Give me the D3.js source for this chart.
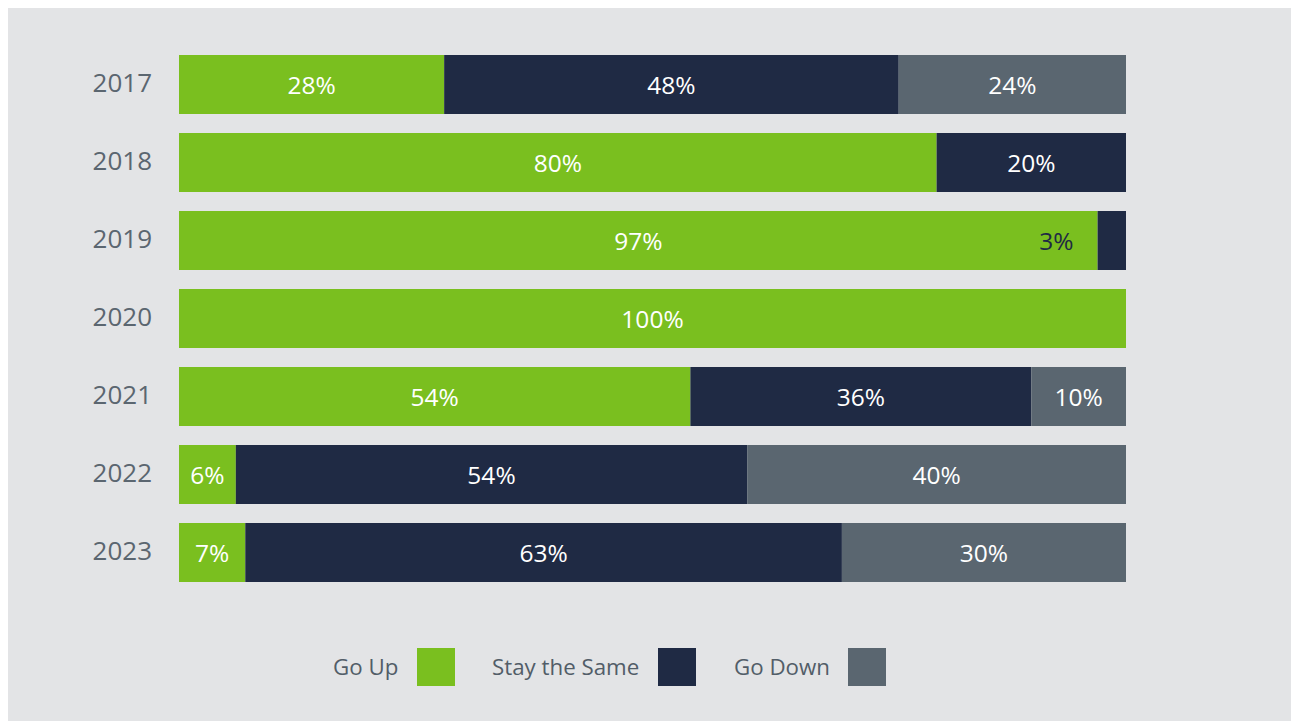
<!DOCTYPE html>
<html>
<head>
<meta charset="utf-8">
<script src="https://cdn.jsdelivr.net/npm/d3@7"></script>
<style>
  html, body { margin: 0; padding: 0; background: #fff; }
  svg { display: block; font-family: "Open Sans", "Noto Sans", sans-serif; }
</style>
</head>
<body>
<div id="chart"></div>
<script>
  // data
  var years = ['2017', '2018', '2019', '2020', '2021', '2022', '2023'];
  var goUp = [28, 80, 97, 100, 54, 6, 7];
  var staySame = [48, 20, 3, 0, 36, 54, 63];
  var goDown = [24, 0, 0, 0, 10, 40, 30];
  var seriesNames = ['Go Up', 'Stay the Same', 'Go Down'];
  var seriesColors = ['#7abf1f', '#1f2a44', '#5a6670'];

  var W = 1291, H = 721;
  var margin = {top: 55, left: 179, right: 165};
  var width = W - margin.left - margin.right;

  var svg = d3.select('#chart').append('svg')
    .attr('width', W).attr('height', H);

  // gray panel
  svg.append('rect')
    .attr('x', 8).attr('y', 8)
    .attr('width', W - 8).attr('height', H - 8)
    .attr('fill', '#e3e4e6');

  var rows = years.map(function(y, i) {
    return {year: y, vals: [goUp[i], staySame[i], goDown[i]]};
  });

  var x = d3.scaleLinear().domain([0, 100]).range([0, width]);
  var y = d3.scaleBand().domain(years)
    .range([0, 78 * (years.length - 1) + 59]).paddingInner(19 / 78).paddingOuter(0);

  var g = svg.append('g')
    .attr('transform', 'translate(' + margin.left + ',' + margin.top + ')');

  // year labels
  var yAxis = d3.axisLeft(y).tickSize(0).tickPadding(27);
  g.append('g').call(yAxis)
    .call(function(a) { a.select('.domain').remove(); })
    .selectAll('text')
    .attr('font-size', 26)
    .attr('fill', '#5b6670')
    .attr('y', -2)
    .attr('dy', '0.36em')
    .style('font-family', '"Open Sans", sans-serif');

  var row = g.selectAll('.row').data(rows).enter().append('g')
    .attr('class', 'row')
    .attr('transform', function(d) { return 'translate(0,' + y(d.year) + ')'; });

  row.each(function(d) {
    var sel = d3.select(this);
    var acc = 0;
    d.vals.forEach(function(v, k) {
      if (v <= 0) return;
      var x0 = x(acc), x1 = x(acc + v);
      acc += v;
      sel.append('rect')
        .attr('x', x0).attr('y', 0)
        .attr('width', x1 - x0).attr('height', y.bandwidth())
        .attr('fill', seriesColors[k]);
      var small = (x1 - x0) < 45;
      sel.append('text')
        .attr('x', small ? x0 - 24 : (x0 + x1) / 2)
        .attr('y', y.bandwidth() / 2 + 1)
        .attr('dy', '0.36em')
        .attr('text-anchor', small ? 'end' : 'middle')
        .attr('font-size', 24.5)
        .attr('fill', small ? '#1f2a44' : '#ffffff')
        .text(v + '%');
    });
  });

  // legend
  var legendItems = [
    {name: seriesNames[0], tx: 333, bx: 417},
    {name: seriesNames[1], tx: 492, bx: 658},
    {name: seriesNames[2], tx: 734, bx: 848}
  ];
  var legend = svg.append('g').attr('class', 'legend');
  legendItems.forEach(function(it, k) {
    legend.append('text')
      .attr('x', it.tx).attr('y', 667)
      .attr('dy', '0.36em')
      .attr('font-size', 22.3)
      .attr('fill', '#525d68')
      .text(it.name);
    legend.append('rect')
      .attr('x', it.bx).attr('y', 648)
      .attr('width', 38).attr('height', 38)
      .attr('fill', seriesColors[k]);
  });
</script>
</body>
</html>
